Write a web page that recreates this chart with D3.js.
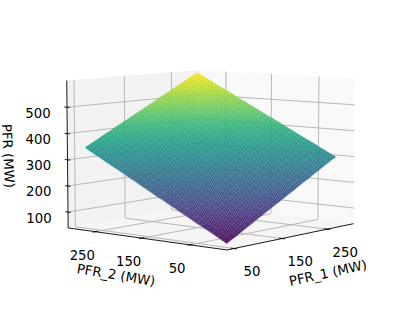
<!DOCTYPE html>
<html><head><meta charset="utf-8">
<script src="https://cdn.jsdelivr.net/npm/d3@7/dist/d3.min.js"></script>
<style>html,body{margin:0;padding:0;background:#fff}svg{display:block}text{font-family:"DejaVu Sans";fill:#000}</style>
</head><body><svg id="c" width="414" height="314"></svg>
<script>
const xTicks=[50,150,250], yTicks=[50,150,250], zTicks=[100,200,300,400,500];
const xGrid=[56,66,76,86,96,106,116,126,136,146,156,166,176,186,196,206,216,226,236,246,256,266,276,286,292];
const yGrid=[-3,7,17,27,37,47,57,67,77,87,97,107,117,127,137,147,157,167,177,187,197,207,217,227,237,247,257,267,277,287,294];
const zRowStart=[50,60,70,80,90,100,109,119,129,139,149,159,169,179,188,198,208,218,228,238,248,258,268,278,287,297,307,317,327,337,345];
const zRowStep=[11,10,11,11,10,11,11,10,11,11,10,11,11,10,11,11,10,11,11,10,11,11,10,5];
const xLim=[36,312], yLim=[-23,311], zLim=[39,601];
const elev=6.5, azim=-140.5, dist=10, focalScale=1712, cx=212, cy=153;

const U=d3.scaleLinear().domain(xLim).range([-0.595,0.595]);
const V=d3.scaleLinear().domain(yLim).range([-0.595,0.595]);
const W=d3.scaleLinear().domain(zLim).range([-0.43,0.43]);
const color=d3.scaleSequential(d3.interpolateViridis).domain([50,595]);
const e=elev*Math.PI/180,a=azim*Math.PI/180;
function proj(X,Y,Z){
  const sx=X*(-Math.sin(a))+Y*Math.cos(a);
  const h=X*Math.cos(a)+Y*Math.sin(a);
  const sy=Z*Math.cos(e)-h*Math.sin(e);
  const depth=h*Math.cos(e)+Z*Math.sin(e);
  const k=focalScale/(dist-depth);
  return [cx+sx*k, cy-sy*k];
}
const P=(x,y,z)=>proj(U(x),V(y),W(z));
const svg=d3.select("#c");
const line=d3.line();
const [x0,x1]=xLim,[y0,y1]=yLim,[z0,z1]=zLim;
const defs=svg.append("defs");
const pat=defs.append("pattern").attr("id","sp").attr("patternUnits","userSpaceOnUse").attr("width",4).attr("height",4);
[[0,0,0.16],[2,0,0.06],[1,2,0.14],[3,1,0.1],[2,3,0.16]].forEach(d=>pat.append("rect").attr("x",d[0]).attr("y",d[1]).attr("width",1).attr("height",1).attr("fill","#fff").attr("fill-opacity",d[2]));
[[1,0,0.06],[0,2,0.07],[3,3,0.06]].forEach(d=>pat.append("rect").attr("x",d[0]).attr("y",d[1]).attr("width",1).attr("height",1).attr("fill","#000").attr("fill-opacity",d[2]));
const poly=(pts,fill)=>svg.append("path").attr("d",line(pts)+"Z").attr("fill",fill).attr("stroke","none");
poly([P(x0,y1,z0),P(x1,y1,z0),P(x1,y1,z1),P(x0,y1,z1)],"#f2f2f2");
poly([P(x1,y0,z0),P(x1,y1,z0),P(x1,y1,z1),P(x1,y0,z1)],"#f9f9f9");
poly([P(x0,y0,z0),P(x1,y0,z0),P(x1,y1,z0),P(x0,y1,z0)],"#f5f5f5");
const gl=(a,b)=>svg.append("path").attr("d",line([a,b])).attr("stroke","#b8b8b8").attr("stroke-width",1).attr("fill","none");
xTicks.forEach(t=>{gl(P(t,y0,z0),P(t,y1,z0));gl(P(t,y1,z0),P(t,y1,z1));});
yTicks.forEach(t=>{gl(P(x0,t,z0),P(x1,t,z0));gl(P(x1,t,z0),P(x1,t,z1));});
zTicks.forEach(t=>{gl(P(x0,y1,t),P(x1,y1,t));gl(P(x1,y1,t),P(x1,y0,t));});
const surf=svg.append("g").attr("opacity",0.93);
const zAt=(i,j)=>{let z=zRowStart[j];for(let k=0;k<i;k++)z+=zRowStep[k];return z;};
for(let j=yGrid.length-2;j>=0;j--)for(let i=xGrid.length-2;i>=0;i--){
  const zz=[zAt(i,j),zAt(i+1,j),zAt(i+1,j+1),zAt(i,j+1)];
  const pts=[P(xGrid[i],yGrid[j],zz[0]),P(xGrid[i+1],yGrid[j],zz[1]),P(xGrid[i+1],yGrid[j+1],zz[2]),P(xGrid[i],yGrid[j+1],zz[3])];
  surf.append("path").attr("d",line(pts)+"Z").attr("fill",color(d3.mean(zz))).attr("stroke",color(d3.mean(zz))).attr("stroke-width",0.4);
}
const ni=xGrid.length-1,nj=yGrid.length-1;
surf.append("path").attr("d",line([P(xGrid[0],yGrid[0],zAt(0,0)),P(xGrid[ni],yGrid[0],zAt(ni,0)),P(xGrid[ni],yGrid[nj],zAt(ni,nj)),P(xGrid[0],yGrid[nj],zAt(0,nj))])+"Z").attr("fill","url(#sp)");
const ax=(a,b)=>svg.append("path").attr("d",line([a,b])).attr("stroke","#000").attr("stroke-width",0.9).attr("fill","none");
ax(P(x0,y0,z0),P(x1,y0,z0));ax(P(x0,y0,z0),P(x0,y1,z0));ax(P(x0,y1,z0),P(x0,y1,z1));
const label=(p,s,rot)=>{svg.append("text").attr("transform",`translate(${p[0]},${p[1]}) rotate(${rot||0})`).attr("text-anchor","middle").attr("dominant-baseline","central").attr("font-size",13.3).text(s);};
xTicks.forEach(t=>{const dy=(y1-y0)*0.018;ax(P(t,y0-dy,z0),P(t,y0+dy,z0));});
yTicks.forEach(t=>{const dx=(x1-x0)*0.018;ax(P(x0-dx,t,z0),P(x0+dx,t,z0));});
zTicks.forEach(t=>{const d=(y1-y0)*0.018;ax(P(x0,y1+d,t),P(x0,y1-d,t));});
xTicks.forEach(t=>{const p=P(t,y0,z0);label([p[0]+18,p[1]+23],t);});
yTicks.forEach(t=>{const p=P(x0,t,z0);label([p[0]-13,p[1]+23.5],t);});
zTicks.forEach(t=>{const p=P(x0,y1,t);label([p[0]-29,p[1]+6],t);});
label([328,273],"PFR_1 (MW)",-12.6);
label([116,275],"PFR_2 (MW)",9.4);
label([8,156],"PFR (MW)",87);
</script></body></html>
